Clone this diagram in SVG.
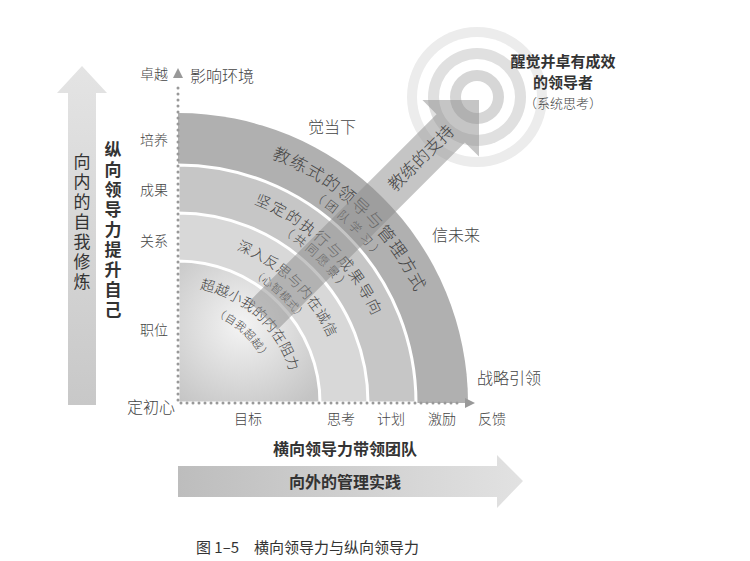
<svg xmlns="http://www.w3.org/2000/svg" width="750" height="561" viewBox="0 0 750 561">
<style>
.t{font-family:"Noto Sans CJK SC","Noto Sans",sans-serif;fill:#333}
.s{font-family:"Noto Sans CJK SC","Noto Sans",serif;fill:#444;font-weight:300}
.a{dominant-baseline:central}
.b{font-weight:bold}
.dot{fill:none;stroke:#999;stroke-width:3;stroke-linecap:round;stroke-dasharray:0 6}
</style>
<defs>
<linearGradient id="gv" x1="0" y1="0" x2="0" y2="1"><stop offset="0" stop-color="#e4e4e4"/><stop offset="1" stop-color="#c8c8c8"/></linearGradient>
<linearGradient id="gh" x1="0" y1="0" x2="1" y2="0"><stop offset="0" stop-color="#bdbdbd"/><stop offset="1" stop-color="#e2e2e2"/></linearGradient>
<radialGradient id="gi" cx="0.45" cy="0.45" r="0.7"><stop offset="0" stop-color="#f4f4f4"/><stop offset="1" stop-color="#c4c4c4"/></radialGradient>
<path id="p1" d="M274.7,150.8 A270,270 0 0 1 448,403"/>
<path id="p2" d="M314.8,192.4 A251,251 0 0 1 429,403"/>
<path id="p3" d="M256.8,197.5 A220,220 0 0 1 398,403"/>
<path id="p4" d="M283.6,227.3 A205,205 0 0 1 383,403"/>
<path id="p5" d="M238.9,244.2 A170,170 0 0 1 348,403"/>
<path id="p6" d="M254,271.4 A152,152 0 0 1 330,403"/>
<path id="p7" d="M201.3,283.2 A122,122 0 0 1 300,403"/>
<path id="p8" d="M215.5,310.3 A100,100 0 0 1 278,403"/>
</defs>
<g id="target">
<circle cx="477" cy="97" r="70" fill="#ececec"/>
<circle cx="477" cy="97" r="60" fill="#fff"/>
<circle cx="477" cy="97" r="49" fill="#e0e0e0"/>
<circle cx="477" cy="97" r="38" fill="#fff"/>
<circle cx="477" cy="97" r="27" fill="#d6d6d6"/>
<circle cx="477" cy="97" r="16" fill="#fff"/>
</g>
<g id="rings">
<path d="M178,403 V113 A290,290 0 0 1 468,403 Z" fill="#b0b0b0"/>
<path d="M178,403 V165 A238,238 0 0 1 416,403 Z" fill="#c6c6c6" stroke="#fff" stroke-width="3"/>
<path d="M178,403 V213 A190,190 0 0 1 368,403 Z" fill="#d8d8d8" stroke="#fff" stroke-width="3"/>
<path d="M178,403 V261 A142,142 0 0 1 320,403 Z" fill="url(#gi)" stroke="#fff" stroke-width="3"/>
</g>
<g id="arcText">
<text class="s a" font-size="17"><textPath href="#p1" textLength="207" lengthAdjust="spacing">教练式的领导与管理方式</textPath></text>
<text class="s a" font-size="12"><textPath href="#p2" textLength="92" lengthAdjust="spacing">（团队学习）</textPath></text>
<text class="s a" font-size="15"><textPath href="#p3" textLength="172" lengthAdjust="spacing">坚定的执行与成果导向</textPath></text>
<text class="s a" font-size="12"><textPath href="#p4" textLength="88" lengthAdjust="spacing">（共同愿景）</textPath></text>
<text class="s a" font-size="14"><textPath href="#p5" textLength="135" lengthAdjust="spacing">深入反思与内在诚信</textPath></text>
<text class="s a" font-size="11"><textPath href="#p6" textLength="69" lengthAdjust="spacing">（心智模式）</textPath></text>
<text class="s a" font-size="14"><textPath href="#p7" textLength="134" lengthAdjust="spacing">超越小我的内在阻力</textPath></text>
<text class="s a" font-size="11"><textPath href="#p8" textLength="72" lengthAdjust="spacing">（自我超越）</textPath></text>
</g>
<g id="coachArrow" transform="translate(479,100) rotate(-45)">
<polygon points="0,0 -40,-40 -40,-20 -305,-20 -305,20 -40,20 -40,40" fill="#8c8c8c" fill-opacity="0.5"/>
<text class="s" x="-82" y="6" font-size="17" text-anchor="middle">教练的支持</text>
</g>
<g id="connectors">
<path class="dot" d="M178,400 V82"/>
<polygon points="178,68 173,78 183,78" fill="#999"/>
<path class="dot" d="M181,403 H462"/>
<polygon points="475,403 465,398 465,408" fill="#999"/>
</g>
<g id="leftArrow">
<polygon points="82,66 107,93 96,93 96,405 68,405 68,93 57,93" fill="url(#gv)"/>
<text class="t" font-size="17" text-anchor="middle"><tspan x="82" y="168">向</tspan><tspan x="82" y="188">内</tspan><tspan x="82" y="208">的</tspan><tspan x="82" y="228">自</tspan><tspan x="82" y="248">我</tspan><tspan x="82" y="268">修</tspan><tspan x="82" y="288">炼</tspan></text>
</g>
<g id="vertLabel">
<text class="t b" font-size="17" text-anchor="middle"><tspan x="113" y="156">纵</tspan><tspan x="113" y="176">向</tspan><tspan x="113" y="196">领</tspan><tspan x="113" y="216">导</tspan><tspan x="113" y="236">力</tspan><tspan x="113" y="256">提</tspan><tspan x="113" y="276">升</tspan><tspan x="113" y="296">自</tspan><tspan x="113" y="316">己</tspan></text>
</g>
<g id="yLabels">
<text x="168" y="79" font-size="14" text-anchor="end" class="s">卓越</text>
<text x="168" y="145" font-size="14" text-anchor="end" class="s">培养</text>
<text x="168" y="195" font-size="14" text-anchor="end" class="s">成果</text>
<text x="168" y="246" font-size="14" text-anchor="end" class="s">关系</text>
<text x="168" y="335" font-size="14" text-anchor="end" class="s">职位</text>
<text x="175" y="413" text-anchor="end" class="s" font-size="16">定初心</text>
</g>
<g id="xLabels">
<text class="s" x="248" y="424" font-size="14" text-anchor="middle">目标</text>
<text class="s" x="341" y="424" font-size="14" text-anchor="middle">思考</text>
<text class="s" x="391" y="424" font-size="14" text-anchor="middle">计划</text>
<text class="s" x="442" y="424" font-size="14" text-anchor="middle">激励</text>
<text class="s" x="492" y="424" font-size="14" text-anchor="middle">反馈</text>
</g>
<g id="otherLabels">
<text class="s" x="190" y="82" font-size="16">影响环境</text>
<text class="s" x="308" y="133" font-size="16">觉当下</text>
<text class="s" x="432" y="241" font-size="16">信未来</text>
<text class="s" x="477" y="384" font-size="16">战略引领</text>
<text class="t b" x="563" y="67" font-size="15" text-anchor="middle">醒觉并卓有成效</text>
<text class="t b" x="563" y="88" font-size="15" text-anchor="middle">的领导者</text>
<text class="s" x="563" y="108" font-size="13" text-anchor="middle">（系统思考）</text>
</g>
<g id="bottomArrow">
<polygon points="178,466 497,466 497,455 523,481 497,508 497,497 178,497" fill="url(#gh)"/>
<text class="t b" x="345" y="455" font-size="16" text-anchor="middle">横向领导力带领团队</text>
<text class="t b" x="345" y="488" font-size="16" text-anchor="middle">向外的管理实践</text>
</g>
<text class="t" x="196" y="553" font-size="15">图 1–5　横向领导力与纵向领导力</text>
</svg>
